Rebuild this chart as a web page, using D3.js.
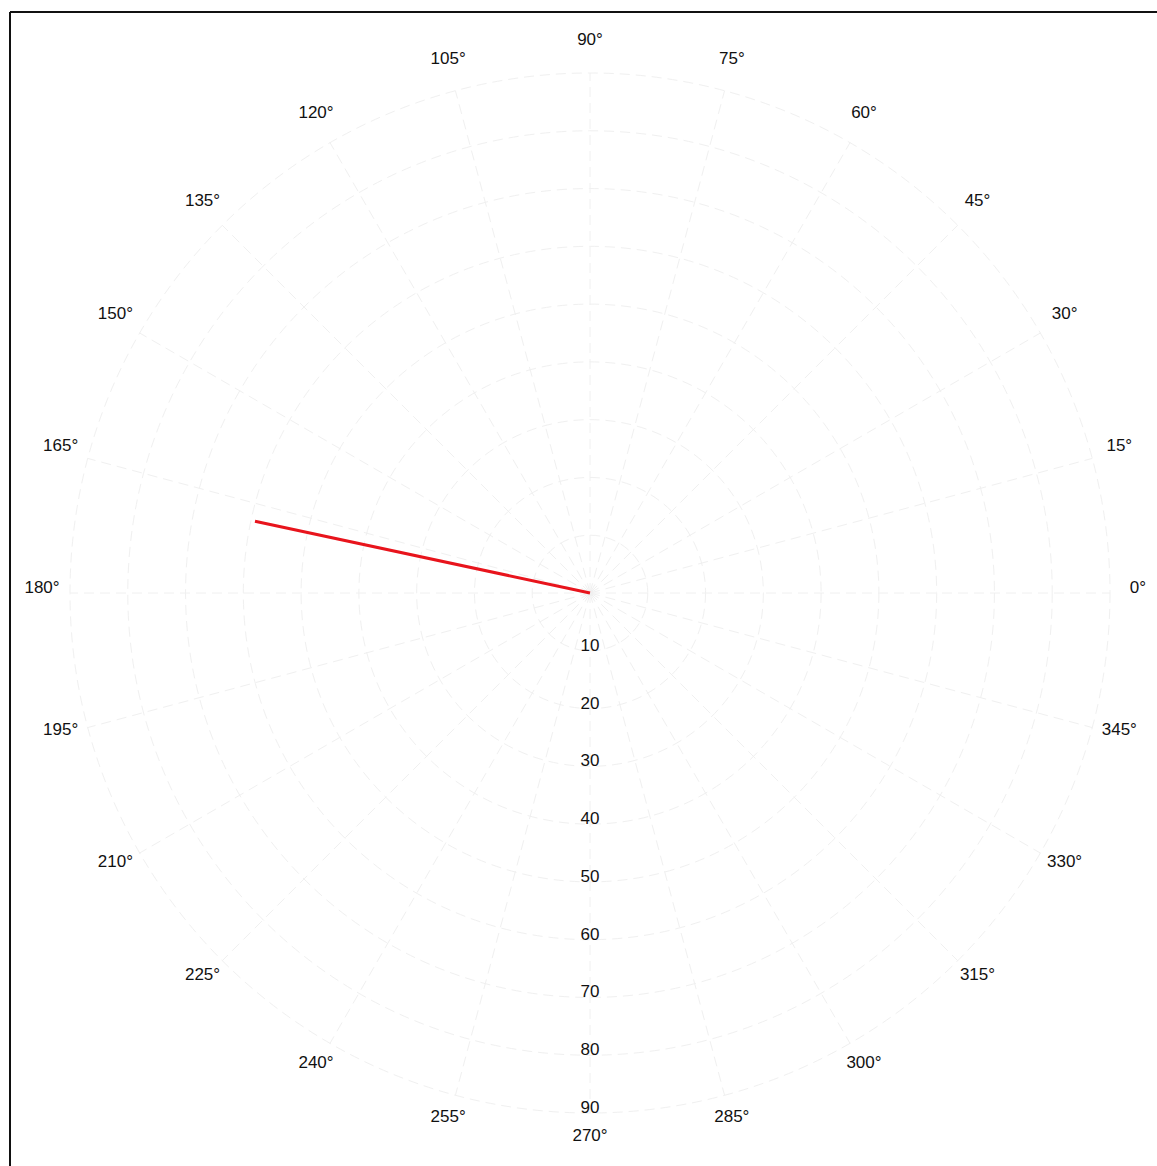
<!DOCTYPE html>
<html><head><meta charset="utf-8">
<script src="https://cdn.jsdelivr.net/npm/d3@7"></script>
<style>body{margin:0;background:#fff;} svg{display:block;}</style>
</head><body>
<script>
// Data
const angleTicks = [0,15,30,45,60,75,90,105,120,135,150,165,180,195,210,225,240,255,270,285,300,315,330,345];
const radialTicks = [10,20,30,40,50,60,70,80,90];
const seriesTheta = [0, 167.9];   // degrees
const seriesR = [0, 59.3];

const W = 1157, H = 1166;
const cx = 590, cy = 593;
const svg = d3.select("body").append("svg").attr("width", W).attr("height", H);

// frame (top and left edges visible)
svg.append("line").attr("x1",10).attr("x2",W).attr("y1",12).attr("y2",12).attr("stroke","#111").attr("stroke-width",2);
svg.append("line").attr("x1",10).attr("x2",10).attr("y1",12).attr("y2",H).attr("stroke","#111").attr("stroke-width",2);

const r = d3.scaleLinear().domain([0,90]).range([0,520]);
const g = svg.append("g").attr("transform",`translate(${cx},${cy})`);
const toXY = (deg, v) => { const a = deg*Math.PI/180; return [r(v)*Math.cos(a), -r(v)*Math.sin(a)]; };

// grid circles
g.selectAll("circle.grid").data(radialTicks).join("circle")
  .attr("class","grid").attr("r",d=>r(d)).attr("fill","none")
  .attr("stroke","#f0f0f0").attr("stroke-width",1).attr("stroke-dasharray","10,6");
// spokes
g.selectAll("line.spoke").data(angleTicks).join("line")
  .attr("class","spoke")
  .attr("x1",0).attr("y1",0)
  .attr("x2",d=>toXY(d,90)[0]).attr("y2",d=>toXY(d,90)[1])
  .attr("stroke","#f0f0f0").attr("stroke-width",1).attr("stroke-dasharray","10,6");

// angle labels
const labR = 548;
g.selectAll("text.ang").data(angleTicks).join("text")
  .attr("class","ang")
  .attr("x",d=>labR*Math.cos(d*Math.PI/180))
  .attr("y",d=>-labR*Math.sin(d*Math.PI/180))
  .attr("text-anchor","middle")
  .attr("font-family","Liberation Sans, Arial, sans-serif")
  .attr("font-size",17).attr("fill","#111")
  .text(d=>d+"°");

// radial labels
g.selectAll("text.rad").data(radialTicks).join("text")
  .attr("class","rad")
  .attr("x",0).attr("y",d=>r(d))
  .attr("text-anchor","middle")
  .attr("font-family","Liberation Sans, Arial, sans-serif")
  .attr("font-size",17).attr("fill","#111")
  .text(d=>d);

// series
const pts = seriesTheta.map((t,i)=>toXY(t, seriesR[i]));
g.append("path").attr("d", d3.line()(pts))
  .attr("fill","none").attr("stroke","#e8141c").attr("stroke-width",3);
</script>
</body></html>
